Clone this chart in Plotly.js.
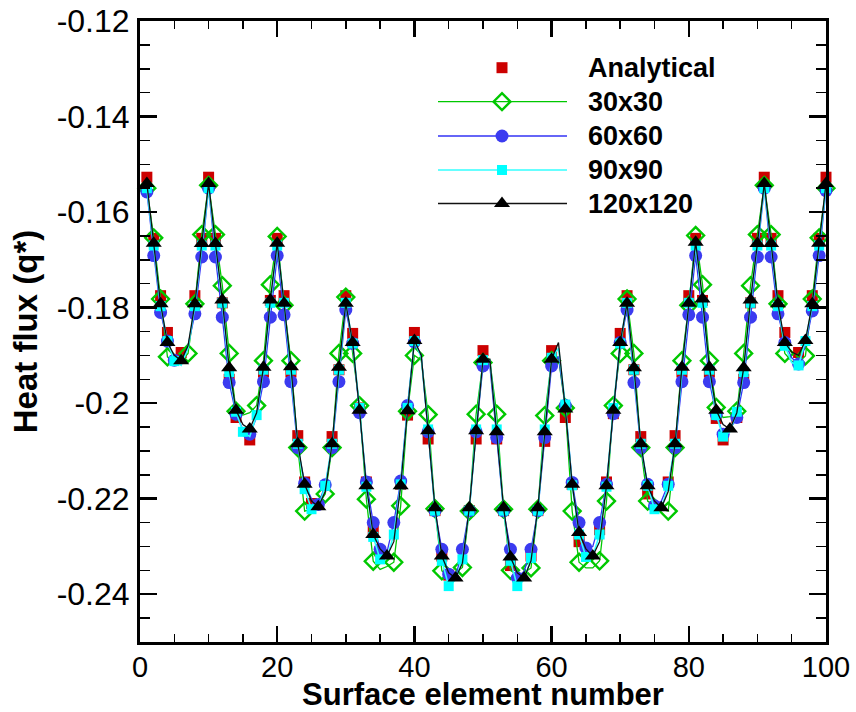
<!DOCTYPE html>
<html>
<head>
<meta charset="utf-8">
<script src="https://cdn.plot.ly/plotly-3.0.1.min.js"></script>
<style>
html,body{margin:0;padding:0;background:#fff;}
#chart{width:856px;height:712px;}
</style>
</head>
<body>
<div id="chart"></div>
<script>
// ---------------- DATA ----------------
const elements = [1,2,3,4,5,6,7,8,9,10,11,12,13,14,15,16,17,18,19,20,21,22,23,24,25,26,27,28,29,30,
  31,32,33,34,35,36,37,38,39,40,41,42,43,44,45,46,47,48,49,50,51,52,53,54,55,56,57,58,59,60,
  61,62,63,64,65,66,67,68,69,70,71,72,73,74,75,76,77,78,79,80,81,82,83,84,85,86,87,88,89,90,
  91,92,93,94,95,96,97,98,99,100];

const analytical = [
  -0.1527,-0.1655,-0.1775,-0.1852,-0.1885,-0.1894,-0.1860,-0.1775,-0.1655,-0.1527,
  -0.1655,-0.1790,-0.1950,-0.2030,-0.2068,-0.2077,-0.2040,-0.1935,-0.1785,-0.1655,
  -0.1775,-0.1935,-0.2068,-0.2165,-0.2210,-0.2220,-0.2190,-0.2070,-0.1930,-0.1775,
  -0.1854,-0.2010,-0.2165,-0.2265,-0.2310,-0.2320,-0.2290,-0.2170,-0.2025,-0.1852,
  -0.1890,-0.2075,-0.2225,-0.2320,-0.2360,-0.2370,-0.2340,-0.2225,-0.2075,-0.1890,
  -0.1890,-0.2075,-0.2225,-0.2340,-0.2370,-0.2360,-0.2320,-0.2225,-0.2080,-0.1890,
  -0.1870,-0.2030,-0.2170,-0.2290,-0.2320,-0.2310,-0.2265,-0.2165,-0.2022,-0.1854,
  -0.1775,-0.1930,-0.2070,-0.2190,-0.2220,-0.2210,-0.2165,-0.2068,-0.1935,-0.1775,
  -0.1655,-0.1785,-0.1935,-0.2032,-0.2077,-0.2068,-0.2030,-0.1950,-0.1790,-0.1655,
  -0.1527,-0.1655,-0.1775,-0.1852,-0.1885,-0.1894,-0.1855,-0.1775,-0.1655,-0.1527];

const mesh30 = [
  -0.1550,-0.1654,-0.1782,-0.1903,-0.1915,-0.1912,-0.1896,-0.1792,-0.1647,-0.1544,
  -0.1647,-0.1754,-0.1896,-0.2017,-0.2025,-0.2020,-0.2005,-0.1911,-0.1752,-0.1651,
  -0.1795,-0.1911,-0.2093,-0.2226,-0.2222,-0.2212,-0.2190,-0.2093,-0.1896,-0.1778,
  -0.1896,-0.2005,-0.2201,-0.2331,-0.2348,-0.2342,-0.2333,-0.2215,-0.2017,-0.1900,
  -0.1910,-0.2024,-0.2221,-0.2351,-0.2360,-0.2355,-0.2344,-0.2226,-0.2023,-0.1915,
  -0.1912,-0.2023,-0.2222,-0.2350,-0.2360,-0.2355,-0.2345,-0.2222,-0.2026,-0.1911,
  -0.1905,-0.2010,-0.2226,-0.2333,-0.2345,-0.2345,-0.2330,-0.2205,-0.2005,-0.1896,
  -0.1782,-0.1896,-0.2093,-0.2205,-0.2215,-0.2222,-0.2226,-0.2093,-0.1911,-0.1795,
  -0.1649,-0.1752,-0.1911,-0.2009,-0.2030,-0.2028,-0.2017,-0.1896,-0.1754,-0.1647,
  -0.1544,-0.1647,-0.1792,-0.1896,-0.1912,-0.1915,-0.1901,-0.1782,-0.1654,-0.1550];

const mesh60 = [
  -0.1558,-0.1691,-0.1810,-0.1870,-0.1910,-0.1918,-0.1880,-0.1813,-0.1694,-0.1550,
  -0.1694,-0.1820,-0.1957,-0.2023,-0.2055,-0.2065,-0.2030,-0.1955,-0.1820,-0.1691,
  -0.1815,-0.1955,-0.2093,-0.2168,-0.2200,-0.2212,-0.2171,-0.2093,-0.1955,-0.1805,
  -0.1875,-0.2020,-0.2165,-0.2250,-0.2306,-0.2312,-0.2250,-0.2163,-0.2005,-0.1872,
  -0.1900,-0.2060,-0.2225,-0.2306,-0.2358,-0.2365,-0.2306,-0.2225,-0.2060,-0.1922,
  -0.1922,-0.2072,-0.2225,-0.2306,-0.2366,-0.2352,-0.2306,-0.2225,-0.2072,-0.1922,
  -0.1902,-0.2005,-0.2166,-0.2250,-0.2303,-0.2300,-0.2250,-0.2170,-0.2022,-0.1873,
  -0.1805,-0.1957,-0.2093,-0.2170,-0.2215,-0.2205,-0.2170,-0.2093,-0.1955,-0.1815,
  -0.1691,-0.1820,-0.1955,-0.2023,-0.2065,-0.2055,-0.2030,-0.1957,-0.1820,-0.1694,
  -0.1550,-0.1694,-0.1813,-0.1873,-0.1905,-0.1918,-0.1880,-0.1807,-0.1691,-0.1555];

const mesh90 = [
  -0.1550,-0.1670,-0.1797,-0.1870,-0.1912,-0.1921,-0.1885,-0.1797,-0.1670,-0.1550,
  -0.1670,-0.1790,-0.1935,-0.2018,-0.2060,-0.2070,-0.2025,-0.1930,-0.1790,-0.1670,
  -0.1790,-0.1930,-0.2085,-0.2180,-0.2222,-0.2220,-0.2173,-0.2085,-0.1930,-0.1790,
  -0.1875,-0.2010,-0.2175,-0.2280,-0.2327,-0.2325,-0.2275,-0.2170,-0.2010,-0.1870,
  -0.1905,-0.2055,-0.2225,-0.2330,-0.2383,-0.2370,-0.2327,-0.2225,-0.2055,-0.1910,
  -0.1910,-0.2055,-0.2225,-0.2330,-0.2383,-0.2370,-0.2324,-0.2225,-0.2055,-0.1905,
  -0.1885,-0.2003,-0.2172,-0.2275,-0.2322,-0.2320,-0.2275,-0.2175,-0.2010,-0.1875,
  -0.1790,-0.1930,-0.2085,-0.2173,-0.2222,-0.2220,-0.2173,-0.2085,-0.1930,-0.1790,
  -0.1670,-0.1790,-0.1930,-0.2025,-0.2070,-0.2060,-0.2018,-0.1935,-0.1790,-0.1670,
  -0.1550,-0.1670,-0.1797,-0.1880,-0.1915,-0.1921,-0.1870,-0.1797,-0.1670,-0.1550];

const mesh120 = [
  -0.1540,-0.1665,-0.1792,-0.1873,-0.1900,-0.1911,-0.1880,-0.1792,-0.1666,-0.1540,
  -0.1666,-0.1784,-0.1926,-0.2015,-0.2045,-0.2054,-0.2020,-0.1925,-0.1784,-0.1665,
  -0.1791,-0.1924,-0.2085,-0.2170,-0.2205,-0.2217,-0.2185,-0.2085,-0.1925,-0.1791,
  -0.1873,-0.2015,-0.2173,-0.2275,-0.2305,-0.2320,-0.2290,-0.2173,-0.2016,-0.1869,
  -0.1900,-0.2058,-0.2219,-0.2320,-0.2355,-0.2366,-0.2335,-0.2219,-0.2058,-0.1908,
  -0.1908,-0.2060,-0.2219,-0.2322,-0.2355,-0.2366,-0.2330,-0.2219,-0.2060,-0.1908,
  -0.1873,-0.2012,-0.2170,-0.2271,-0.2305,-0.2320,-0.2290,-0.2173,-0.2015,-0.1873,
  -0.1791,-0.1926,-0.2085,-0.2173,-0.2205,-0.2219,-0.2185,-0.2085,-0.1925,-0.1791,
  -0.1663,-0.1782,-0.1925,-0.2015,-0.2045,-0.2054,-0.2020,-0.1926,-0.1784,-0.1666,
  -0.1540,-0.1666,-0.1792,-0.1873,-0.1893,-0.1900,-0.1869,-0.1792,-0.1665,-0.1540];

const seriesNames = ['Analytical','30x30','60x60','90x90','120x120'];
const yTickVals = [-0.24,-0.22,-0.2,-0.18,-0.16,-0.14,-0.12];
const yTickText = ['-0.24','-0.22','-0.2','-0.18','-0.16','-0.14','-0.12'];
const xTickVals = [0,20,40,60,80,100];
const xTickText = ['0','20','40','60','80','100'];

// ---------------- STYLE ----------------
const FONT = 'Liberation Sans, Arial, Helvetica, sans-serif';
const styles = [
  {line:null, marker:{symbol:'square', size:11, color:'#cc0000'}},
  {line:{color:'#00c800', width:1.3}, marker:{symbol:'diamond-open', size:13, color:'#00c800', line:{width:2.4, color:'#00c800'}}},
  {line:{color:'#3333f5', width:1.3}, marker:{symbol:'circle', size:13, color:'#3b3bf0'}},
  {line:{color:'#33ffff', width:1.6}, marker:{symbol:'square', size:10, color:'#00ffff'}},
  {line:{color:'#111111', width:1.3}, marker:{symbol:'triangle-up', size:14, color:'#000000'}}
];
const allSeries = [analytical, mesh30, mesh60, mesh90, mesh120];

// Plot geometry (pixels)
const L = 140, R = 30, T = 21, B = 70, W = 856, H = 712;
const plotW = W - L - R, plotH = H - T - B;
const xRange = [0, 100], yRange = [-0.25, -0.12];

// Tecplot-like symbol skipping by distance (in pixels)
function skipByDistance(xs, ys, minDist) {
  const kx = plotW / (xRange[1] - xRange[0]);
  const ky = plotH / (yRange[1] - yRange[0]);
  const ox = [], oy = [];
  let lx = null, ly = null;
  for (let i = 0; i < xs.length; i++) {
    const px = xs[i] * kx, py = ys[i] * ky;
    if (lx === null || Math.hypot(px - lx, py - ly) >= minDist) {
      ox.push(xs[i]); oy.push(ys[i]); lx = px; ly = py;
    }
  }
  return {x: ox, y: oy};
}

const traces = [];
allSeries.forEach((vals, i) => {
  const st = styles[i];
  if (st.line) {
    traces.push({x: elements, y: vals, type: 'scatter', mode: 'lines', line: st.line,
      hoverinfo: 'skip', showlegend: false});
  }
  const m = skipByDistance(elements, vals, 20);
  traces.push({x: m.x, y: m.y, type: 'scatter', mode: 'markers', marker: st.marker,
    name: seriesNames[i], showlegend: false, cliponaxis: false});
});

// Custom legend on an overlay axis measured in page pixels
const legRows = [67.7, 101.7, 136, 170, 203.5];
const legLineX = [438, 567], legMarkX = 502, legTextX = 586;
const annotations = [];
allSeries.forEach((vals, i) => {
  const st = styles[i];
  if (st.line) {
    traces.push({x: legLineX, y: [legRows[i], legRows[i]], xaxis: 'x2', yaxis: 'y2',
      type: 'scatter', mode: 'lines', line: st.line, hoverinfo: 'skip', showlegend: false});
  }
  traces.push({x: [legMarkX], y: [legRows[i]], xaxis: 'x2', yaxis: 'y2', type: 'scatter',
    mode: 'markers', marker: st.marker, hoverinfo: 'skip', showlegend: false});
  annotations.push({x: legTextX, y: legRows[i], xref: 'x2', yref: 'y2', text: seriesNames[i],
    showarrow: false, xanchor: 'left', yanchor: 'middle',
    font: {family: FONT, size: 27, weight: 'bold', color: '#000'}});
});

const axisCommon = {
  showgrid: false, zeroline: false, showline: true, linecolor: '#000', linewidth: 3,
  mirror: 'allticks', ticks: 'inside', tickcolor: '#000', tickwidth: 2.5
};

const layout = {
  width: W, height: H,
  margin: {l: L, r: R, t: T, b: B, pad: 0},
  paper_bgcolor: '#fff', plot_bgcolor: '#fff',
  showlegend: false,
  xaxis: Object.assign({}, axisCommon, {
    range: xRange, tickmode: 'array', tickvals: xTickVals, ticktext: xTickText,
    tickfont: {family: FONT, size: 29, color: '#000'},
    ticklen: 16, ticklabelstandoff: -3,
    minor: {tickmode: 'linear', tick0: 0, dtick: 5, ticks: 'inside', ticklen: 8, tickwidth: 1.5, tickcolor: '#000'},
    title: {text: 'Surface element number', font: {family: FONT, size: 31, weight: 'bold', color: '#000'}, standoff: 4}
  }),
  yaxis: Object.assign({}, axisCommon, {
    range: yRange, tickmode: 'array', tickvals: yTickVals, ticktext: yTickText,
    tickfont: {family: FONT, size: 32, color: '#000'},
    ticklen: 17, ticklabelstandoff: 1,
    minor: {tickmode: 'linear', tick0: -0.25, dtick: 0.005, ticks: 'inside', ticklen: 10, tickwidth: 1.5, tickcolor: '#000'},
    title: {text: 'Heat flux (q*)', font: {family: FONT, size: 33, weight: 'bold', color: '#000'}, standoff: 10}
  }),
  xaxis2: {overlaying: 'x', range: [L, L + plotW], visible: false, fixedrange: true},
  yaxis2: {overlaying: 'y', range: [T + plotH, T], visible: false, fixedrange: true},
  annotations: annotations
};

Plotly.newPlot('chart', traces, layout, {staticPlot: true, displayModeBar: false});
</script>
</body>
</html>
